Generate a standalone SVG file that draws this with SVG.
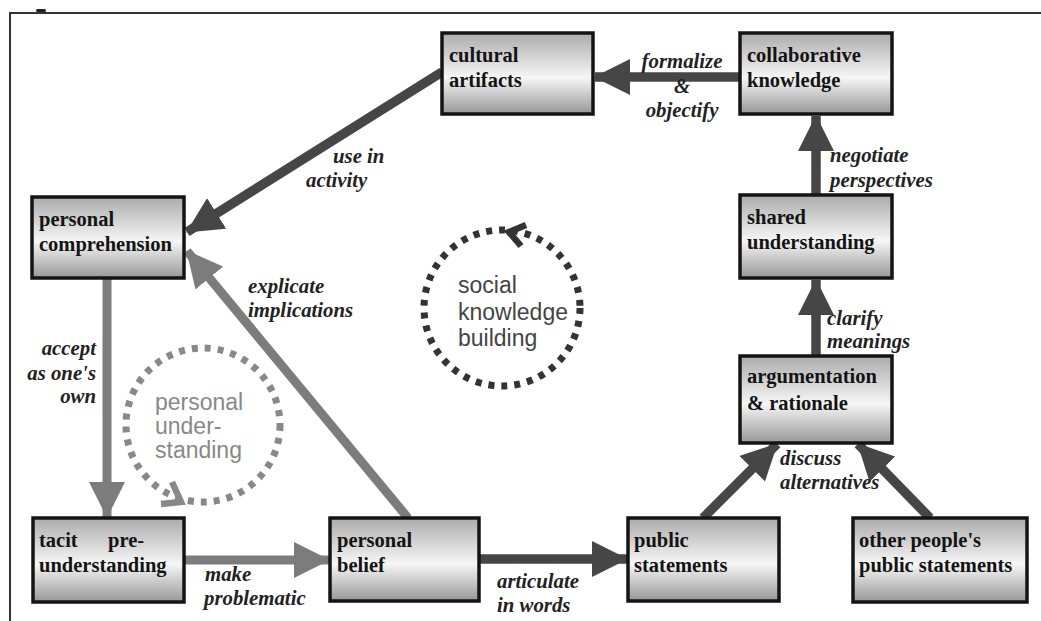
<svg xmlns="http://www.w3.org/2000/svg" width="1041" height="621" viewBox="0 0 1041 621">
<style>
.box{stroke:#141414;stroke-width:3.5;fill:url(#g)}
.bt{font-family:"Liberation Serif",serif;font-weight:bold;font-size:20.5px;fill:#141414}
.lb{font-family:"Liberation Serif",serif;font-weight:bold;font-style:italic;font-size:20.8px;fill:#222}
.dk{stroke:#464646;stroke-width:9.5;fill:none;marker-end:url(#hd)}
.gy{stroke:#7c7c7c;stroke-width:9;fill:none;marker-end:url(#hg)}
.ct{font-family:"Liberation Sans",Arial,sans-serif;font-size:23px}
</style>
<defs>
<linearGradient id="g" x1="0" y1="0" x2="0" y2="1">
<stop offset="0" stop-color="#ababab"/>
<stop offset="0.55" stop-color="#f6f6f6"/>
<stop offset="1" stop-color="#979797"/>
</linearGradient>
<marker id="hd" markerUnits="userSpaceOnUse" markerWidth="36" markerHeight="36" viewBox="0 0 36 36" refX="35" refY="18" orient="auto"><path d="M0,0 L36,18 L0,36 z" fill="#464646"/></marker>
<marker id="hg" markerUnits="userSpaceOnUse" markerWidth="36" markerHeight="36" viewBox="0 0 36 36" refX="35" refY="18" orient="auto"><path d="M0,0 L36,18 L0,36 z" fill="#7c7c7c"/></marker>
</defs>
<rect width="1041" height="621" fill="#fff"/>
<path d="M10,621 V13 H1041" fill="none" stroke="#333" stroke-width="2"/>
<rect x="36" y="9" width="10" height="3" rx="1.5" fill="#222"/>

<g id="connectors">
<line class="dk" x1="740" y1="77" x2="595" y2="77"/>
<line class="dk" x1="442" y1="72" x2="187" y2="232"/>
<line class="gy" x1="408" y1="518" x2="187" y2="251"/>
<line class="gy" x1="107" y1="279" x2="107" y2="517"/>
<line class="gy" x1="184" y1="560" x2="329" y2="560"/>
<line class="dk" x1="479" y1="559" x2="627" y2="559"/>
<line class="dk" x1="703" y1="518" x2="777" y2="444"/>
<line class="dk" x1="930" y1="518" x2="858" y2="444"/>
<line class="dk" x1="816" y1="356" x2="816" y2="280"/>
<line class="dk" x1="816" y1="195" x2="816" y2="116"/>
</g>

<g id="labels">
<text class="lb" x="682" y="68" text-anchor="middle">formalize</text>
<text class="lb" x="682" y="93" text-anchor="middle">&amp;</text>
<text class="lb" x="682" y="117" text-anchor="middle">objectify</text>
<text class="lb" x="333" y="163">use in</text>
<text class="lb" x="306" y="187">activity</text>
<text class="lb" x="248" y="293">explicate</text>
<text class="lb" x="248" y="317">implications</text>
<text class="lb" x="96" y="355" text-anchor="end">accept</text>
<text class="lb" x="96" y="380" text-anchor="end">as one's</text>
<text class="lb" x="96" y="403" text-anchor="end">own</text>
<text class="lb" x="205" y="581">make</text>
<text class="lb" x="204" y="605">problematic</text>
<text class="lb" x="497" y="588">articulate</text>
<text class="lb" x="497" y="612">in words</text>
<text class="lb" x="780" y="465">discuss</text>
<text class="lb" x="780" y="489">alternatives</text>
<text class="lb" x="827" y="325">clarify</text>
<text class="lb" x="827" y="348">meanings</text>
<text class="lb" x="830" y="162">negotiate</text>
<text class="lb" x="830" y="187">perspectives</text>
</g>

<g id="social-cycle">
<circle cx="502" cy="308" r="78" fill="none" stroke="#333" stroke-width="7" stroke-dasharray="6 7"/>
<polyline points="526,225 509,232 521,246" fill="none" stroke="#333" stroke-width="6.5"/>
<text class="ct" fill="#444" x="458" y="293">social</text>
<text class="ct" fill="#444" x="458" y="320">knowledge</text>
<text class="ct" fill="#444" x="458" y="346">building</text>
</g>

<g id="personal-cycle">
<circle cx="203" cy="425" r="77" fill="none" stroke="#888" stroke-width="7" stroke-dasharray="6 7"/>
<polyline points="172,482 181,502 161,504" fill="none" stroke="#888" stroke-width="6.5"/>
<text class="ct" fill="#888" x="155" y="410">personal</text>
<text class="ct" fill="#888" x="155" y="434">under-</text>
<text class="ct" fill="#888" x="155" y="458">standing</text>
</g>

<g id="cultural-artifacts"><rect class="box" x="442" y="33" width="151" height="81"/><text class="bt" x="449" y="62">cultural</text><text class="bt" x="449" y="87">artifacts</text></g>
<g id="collaborative-knowledge"><rect class="box" x="740" y="33" width="152" height="81"/><text class="bt" x="747" y="62">collaborative</text><text class="bt" x="747" y="87">knowledge</text></g>
<g id="shared-understanding"><rect class="box" x="740" y="195" width="152" height="83"/><text class="bt" x="747" y="224">shared</text><text class="bt" x="747" y="249">understanding</text></g>
<g id="argumentation"><rect class="box" x="740" y="356" width="152" height="87"/><text class="bt" x="747" y="383">argumentation</text><text class="bt" x="747" y="410">&amp; rationale</text></g>
<g id="other-statements"><rect class="box" x="853" y="518" width="174" height="84"/><text class="bt" x="859" y="547">other people's</text><text class="bt" x="859" y="572">public statements</text></g>
<g id="public-statements"><rect class="box" x="628" y="518" width="151" height="83"/><text class="bt" x="634" y="547">public</text><text class="bt" x="634" y="572">statements</text></g>
<g id="personal-belief"><rect class="box" x="330" y="518" width="149" height="83"/><text class="bt" x="337" y="547">personal</text><text class="bt" x="337" y="572">belief</text></g>
<g id="tacit-preunderstanding"><rect class="box" x="33" y="518" width="151" height="84"/><text class="bt" x="39" y="547">tacit</text><text class="bt" x="108" y="547">pre-</text><text class="bt" x="39" y="572">understanding</text></g>
<g id="personal-comprehension"><rect class="box" x="32" y="197" width="152" height="81"/><text class="bt" x="39" y="226">personal</text><text class="bt" x="39" y="251">comprehension</text></g>
</svg>
